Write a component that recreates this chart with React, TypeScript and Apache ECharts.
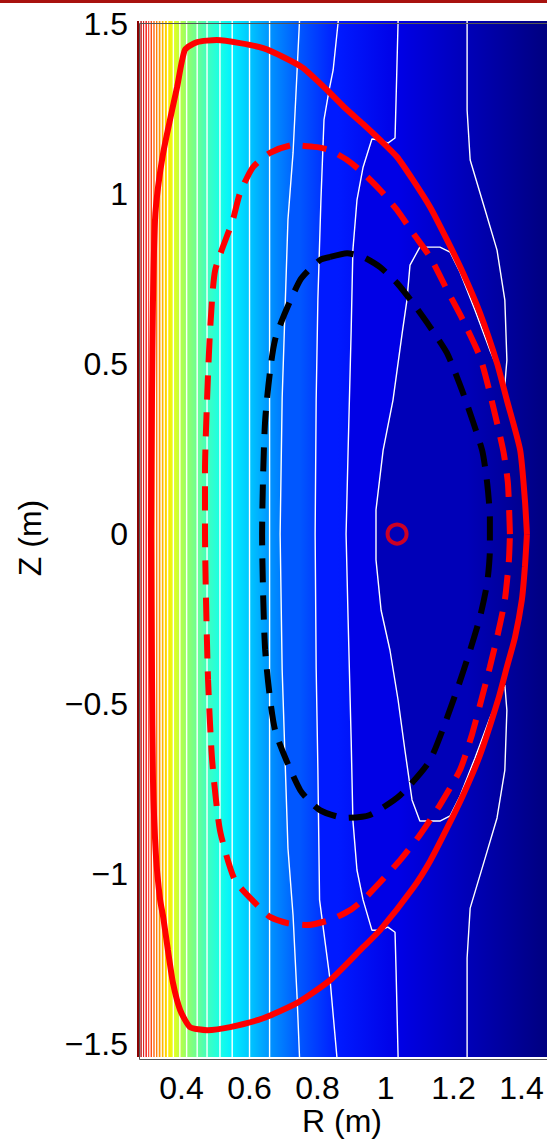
import React, { useEffect, useRef } from "react";
import * as echarts from "echarts";

// ---------- axes ----------
const R_MIN = 0.269;
const R_MAX = 1.475;
const Z_MIN = -1.538;
const Z_MAX = 1.509;
const xTicks = [0.4, 0.6, 0.8, 1, 1.2, 1.4];
const yTicks = [-1.5, -1, -0.5, 0, 0.5, 1, 1.5];

// ---------- field (jet colormap fraction, 1 = dark red, 0 = dark blue) ----------
const edgeLevelLeft = 1.0;
const edgeLevelRight = 0.0;
// nearly vertical contours on the high-field side (R at top of frame)
const straightContourR = [
  0.277, 0.285, 0.292, 0.3, 0.307, 0.315, 0.323, 0.331, 0.34, 0.349, 0.359,
  0.376, 0.395, 0.415, 0.446, 0.475, 0.513, 0.549, 0.6, 0.659,
];
const contourLevels = [
  0.97, 0.93, 0.895, 0.86, 0.83, 0.8, 0.77, 0.74, 0.71, 0.68, 0.65, 0.6, 0.56,
  0.52, 0.48, 0.44, 0.4, 0.36, 0.32, 0.27, 0.21, 0.15, 0.1, 0.055,
];
const contour21 = [
  [0.747, 1.509], [0.74, 1.365], [0.728, 1.121], [0.713, 0.924], [0.696, 0.4],
  [0.69, 0], [0.696, -0.4], [0.713, -0.924], [0.728, -1.121], [0.74, -1.365],
  [0.747, -1.538],
];
const contour22 = [
  [0.861, 1.509], [0.846, 1.365], [0.834, 1.306], [0.819, 1.218], [0.81, 0.982],
  [0.801, 0.688], [0.796, 0.394], [0.793, 0], [0.796, -0.394], [0.801, -0.688],
  [0.806, -1.076], [0.837, -1.312], [0.857, -1.538],
];
const contour23 = [
  [1.037, 1.509], [1.031, 1.276], [1.028, 1.165], [1.007, 1.15], [0.984, 1.159],
  [0.96, 1.162], [0.934, 1.079], [0.916, 0.982], [0.904, 0.835], [0.899, 0.6],
  [0.89, 0.247], [0.884, 0], [0.89, -0.253], [0.899, -0.606], [0.904, -0.841],
  [0.916, -0.988], [0.934, -1.076], [0.96, -1.165], [0.984, -1.165],
  [1.007, -1.156], [1.028, -1.171], [1.031, -1.282], [1.037, -1.538],
];
const contour24 = [
  [1.24, 1.509], [1.24, 1.247], [1.249, 1.1], [1.293, 0.953], [1.328, 0.835],
  [1.351, 0.688], [1.357, 0.512], [1.351, 0.438], [1.307, 0.541], [1.263, 0.659],
  [1.219, 0.771], [1.19, 0.829], [1.16, 0.844], [1.101, 0.844], [1.072, 0.791],
  [1.063, 0.688], [1.049, 0.591], [1.022, 0.394], [0.993, 0.247], [0.972, 0.071],
  [0.972, -0.076], [0.987, -0.224], [1.013, -0.341], [1.037, -0.488],
  [1.057, -0.635], [1.078, -0.782], [1.101, -0.844], [1.16, -0.844],
  [1.19, -0.829], [1.219, -0.771], [1.263, -0.659], [1.307, -0.541],
  [1.351, -0.444], [1.357, -0.518], [1.351, -0.694], [1.328, -0.835],
  [1.293, -0.953], [1.249, -1.1], [1.24, -1.247], [1.24, -1.538],
];

// ---------- boundaries ----------
const lcfs = [
  [1.416, 0], [1.41, 0.1], [1.396, 0.247], [1.357, 0.394], [1.328, 0.503],
  [1.278, 0.65], [1.228, 0.768], [1.181, 0.865], [1.131, 0.962], [1.081, 1.041],
  [1.034, 1.109], [0.984, 1.159], [0.934, 1.206], [0.881, 1.253], [0.828, 1.306],
  [0.757, 1.371], [0.699, 1.403], [0.64, 1.429], [0.572, 1.444], [0.504, 1.453],
  [0.446, 1.447], [0.41, 1.424], [0.387, 1.315], [0.366, 1.218], [0.346, 1.121],
  [0.331, 1.021], [0.322, 0.924], [0.316, 0.688], [0.313, 0.394], [0.31, 0],
  [0.313, -0.4], [0.316, -0.724], [0.325, -0.95], [0.337, -1.076],
  [0.346, -1.126], [0.36, -1.224], [0.375, -1.321], [0.396, -1.4],
  [0.425, -1.45], [0.475, -1.459], [0.543, -1.45], [0.64, -1.424],
  [0.74, -1.379], [0.837, -1.312], [0.934, -1.215], [0.984, -1.165],
  [1.081, -1.041], [1.131, -0.962], [1.181, -0.865], [1.228, -0.768],
  [1.278, -0.65], [1.331, -0.488], [1.357, -0.391], [1.381, -0.303],
  [1.401, -0.194], [1.41, -0.097], [1.416, 0],
];
const redDashed = [
  [1.366, 0], [1.36, 0.15], [1.346, 0.247], [1.307, 0.415], [1.278, 0.521],
  [1.228, 0.629], [1.181, 0.718], [1.131, 0.815], [1.081, 0.885], [1.034, 0.953],
  [0.984, 1.012], [0.934, 1.062], [0.887, 1.1], [0.837, 1.129], [0.799, 1.138],
  [0.728, 1.144], [0.66, 1.121], [0.61, 1.079], [0.572, 1.003], [0.551, 0.924],
  [0.499, 0.776], [0.484, 0.6], [0.475, 0.394], [0.469, 0.188], [0.469, 0],
  [0.472, -0.194], [0.478, -0.429], [0.49, -0.665], [0.513, -0.871],
  [0.557, -1.018], [0.622, -1.091], [0.66, -1.126], [0.71, -1.144],
  [0.769, -1.15], [0.837, -1.135], [0.896, -1.106], [0.934, -1.076],
  [0.984, -1.024], [1.043, -0.959], [1.101, -0.885], [1.16, -0.797],
  [1.219, -0.694], [1.254, -0.591], [1.284, -0.479], [1.307, -0.391],
  [1.331, -0.291], [1.351, -0.194], [1.363, -0.076], [1.366, 0],
];
const blackDashed = [
  [0.837, 0.815], [0.887, 0.826], [0.934, 0.815], [0.984, 0.785], [1.034, 0.738],
  [1.081, 0.679], [1.131, 0.609], [1.181, 0.532], [1.228, 0.415], [1.284, 0.247],
  [1.299, 0.15], [1.307, 0.05], [1.307, -0.047], [1.299, -0.144], [1.278, -0.244],
  [1.249, -0.341], [1.21, -0.459], [1.131, -0.665], [1.043, -0.768],
  [0.954, -0.826], [0.881, -0.835], [0.807, -0.812], [0.749, -0.753],
  [0.675, -0.576], [0.646, -0.341], [0.637, 0], [0.646, 0.335], [0.675, 0.571],
  [0.749, 0.747], [0.807, 0.806], [0.837, 0.815],
];
const magneticAxis = [[1.034, 0]];

// ---------- helpers ----------
function jet(v: number): string {
  const c = (x: number) => Math.max(0, Math.min(1, x));
  const r = c(1.5 - Math.abs(4 * v - 3));
  const g = c(1.5 - Math.abs(4 * v - 2));
  const b = c(1.5 - Math.abs(4 * v - 1));
  return `rgb(${Math.round(r * 255)},${Math.round(g * 255)},${Math.round(b * 255)})`;
}

const leftEdge = [
  [R_MIN, Z_MAX],
  [R_MIN, Z_MIN],
];
const allContours: number[][][] = [
  leftEdge,
  ...straightContourR.map((r) => [
    [r, Z_MAX],
    [r, Z_MIN],
  ]),
  contour21,
  contour22,
  contour23,
  contour24,
];
const allLevels = [edgeLevelLeft, ...contourLevels];

const FONT = "'Liberation Sans', Arial, Helvetica, sans-serif";

export default function App() {
  const ref = useRef<HTMLDivElement>(null);
  useEffect(() => {
    document.body.style.margin = "0";
    if (!ref.current) return;
    const chart = echarts.init(ref.current, undefined, { renderer: "svg" });

    const fillSeries: any = {
      type: "custom",
      coordinateSystem: "cartesian2d",
      silent: true,
      z: 1,
      clip: true,
      data: allContours.map((c) => [c[0][0], 0]),
      renderItem: (params: any, api: any) => {
        const k = params.dataIndex;
        const line = allContours[k];
        const pts = line.map((p) => api.coord(p));
        const tr = api.coord([R_MAX, Z_MAX]);
        const br = api.coord([R_MAX, Z_MIN]);
        pts.push(br, tr);
        const x0 = api.coord([line[0][0], 0])[0];
        const x1 = tr[0];
        const stops: any[] = [];
        for (let j = k; j < allContours.length; j++) {
          const xj = api.coord([allContours[j][0][0], 0])[0];
          stops.push({
            offset: Math.min(1, Math.max(0, (xj - x0) / (x1 - x0))),
            color: jet(allLevels[j]),
          });
        }
        stops.push({ offset: 1, color: jet(edgeLevelRight) });
        return {
          type: "polygon",
          shape: { points: pts },
          style: {
            fill: {
              type: "linear",
              x: x0,
              y: 0,
              x2: x1,
              y2: 0,
              global: true,
              colorStops: stops,
            },
            stroke: null,
          },
        };
      },
    };

    const contourSeries = allContours.slice(1).map((c) => ({
      type: "line",
      data: c,
      symbol: "none",
      showSymbol: false,
      silent: true,
      z: 3,
      lineStyle: { color: "#ffffff", width: 1.4 },
    }));

    const option: any = {
      animation: false,
      grid: { left: 137, top: 21, width: 410, height: 1036 },
      xAxis: {
        type: "value",
        min: R_MIN,
        max: R_MAX,
        axisLine: { show: false },
        axisTick: { show: false },
        splitLine: { show: false },
        axisLabel: {
          customValues: xTicks,
          fontSize: 32,
          color: "#000",
          fontFamily: FONT,
          margin: 15,
          formatter: (v: number) => String(v),
        },
      },
      yAxis: {
        type: "value",
        min: Z_MIN,
        max: Z_MAX,
        axisLine: { show: false },
        axisTick: { show: false },
        splitLine: { show: false },
        axisLabel: {
          customValues: yTicks,
          fontSize: 32,
          color: "#000",
          fontFamily: FONT,
          margin: 9,
          formatter: (v: number) => String(v).replace("-", "\u2212"),
        },
      },
      graphic: [
        {
          type: "rect",
          left: 0,
          top: 0,
          shape: { width: 547, height: 3 },
          style: { fill: "#a8120f" },
          z: 10,
        },
        {
          type: "rect",
          left: 137,
          top: 21,
          shape: { width: 411, height: 1036 },
          style: { fill: "none", stroke: "#555", lineWidth: 1 },
          z: 10,
          silent: true,
        },
        {
          type: "text",
          x: 342,
          y: 1121,
          style: {
            text: "R (m)",
            fontSize: 32,
            fontFamily: FONT,
            fill: "#000",
            textAlign: "center",
            textVerticalAlign: "middle",
          },
        },
        {
          type: "text",
          x: 30,
          y: 538,
          rotation: Math.PI / 2,
          style: {
            text: "Z (m)",
            fontSize: 32,
            fontFamily: FONT,
            fill: "#000",
            textAlign: "center",
            textVerticalAlign: "middle",
          },
        },
      ],
      series: [
        fillSeries,
        ...contourSeries,
        {
          type: "line",
          data: lcfs,
          symbol: "none",
          smooth: 0.2,
          silent: true,
          z: 4,
          lineStyle: { color: "#ff0000", width: 6 },
        },
        {
          type: "line",
          data: redDashed,
          symbol: "none",
          smooth: 0.2,
          silent: true,
          z: 4,
          lineStyle: { color: "#ff0000", width: 6, type: [24, 13] },
        },
        {
          type: "line",
          data: blackDashed,
          symbol: "none",
          smooth: 0.2,
          silent: true,
          z: 4,
          lineStyle: { color: "#000000", width: 6, type: [24, 13] },
        },
        {
          type: "scatter",
          data: magneticAxis,
          symbol: "circle",
          symbolSize: 19,
          silent: true,
          z: 5,
          itemStyle: {
            color: "rgba(0,0,0,0)",
            borderColor: "#ff0000",
            borderWidth: 4,
          },
        },
      ],
    };
    chart.setOption(option);
    return () => chart.dispose();
  }, []);
  return (
    <div
      ref={ref}
      style={{ position: "absolute", left: 0, top: 0, width: 547, height: 1142 }}
    />
  );
}
